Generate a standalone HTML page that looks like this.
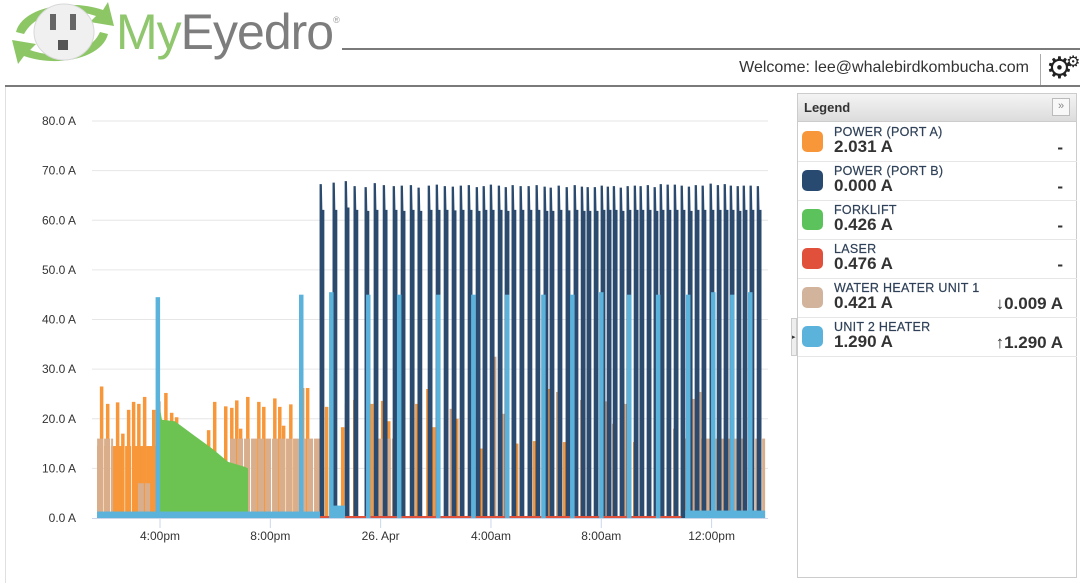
<!DOCTYPE html>
<html><head><meta charset="utf-8">
<style>
html,body{margin:0;padding:0;width:1080px;height:583px;overflow:hidden;background:#fff;font-family:"Liberation Sans",Arial,sans-serif;}
#wrap{position:relative;width:1080px;height:583px;}
.abs{position:absolute;}
.row{position:absolute;left:798px;width:279px;height:39px;border-bottom:1px solid #e6e6e6;}
.sw{position:absolute;left:4px;top:9px;width:21px;height:21px;border-radius:5px;}
.lbl{position:absolute;left:36px;top:3px;font-size:12.5px;color:#2f4158;letter-spacing:0.3px;-webkit-text-stroke:0.2px #2f4158;}
.val{position:absolute;left:36px;top:15px;font-size:17px;font-weight:bold;color:#333;}
.rv{position:absolute;right:14px;top:16px;font-size:17px;font-weight:bold;color:#333;}
</style></head>
<body>
<div id="wrap">
  <svg class="abs" style="left:8px;top:0" width="112" height="68">
    <path d="M8 32 C14 8 60 -2 95 10 L100 2 L106 26 L82 22 L88 16 C60 6 28 12 16 34 Z" fill="#8cc665"/>
    <path d="M100 34 C94 58 50 68 16 56 L10 64 L4 40 L28 44 L22 50 C50 60 82 54 92 32 Z" fill="#8cc665"/>
    <ellipse cx="56" cy="32" rx="30" ry="28" fill="#f0f0f0" stroke="#d8d8d8"/>
    <rect x="42" y="14" width="6" height="16" fill="#666"/>
    <rect x="62" y="14" width="6" height="16" fill="#666"/>
    <path d="M50 40 h10 v10 h-10 z" fill="#555"/>
  </svg>
  <div class="abs" style="left:116px;top:3px;font-size:50px;letter-spacing:-1px;"><span style="color:#8fc66e">My</span><span style="color:#7d7d7d">Eyedro</span><span style="font-size:9px;color:#999;vertical-align:top;position:relative;top:12px">®</span></div>
  <div class="abs" style="left:342px;top:48px;width:738px;height:2px;background:#7a7a7a"></div>
  <div class="abs" style="left:700px;top:59px;width:329px;text-align:right;font-size:16px;color:#333">Welcome: lee@whalebirdkombucha.com</div>
  <div class="abs" style="left:1040px;top:54px;width:1px;height:31px;background:#aaa"></div>
  <div class="abs" style="left:1046px;top:54px;font-size:30px;color:#222;line-height:30px">⚙<span style="position:absolute;left:20px;top:-6px;font-size:16px">⚙</span></div>
  <div class="abs" style="left:5px;top:85px;width:1075px;height:2px;background:#7a7a7a"></div>
  <div class="abs" style="left:5px;top:87px;width:1px;height:496px;background:#e0e0e0"></div>

  <svg id="chart" class="abs" style="left:0;top:0" width="790" height="583"></svg>

  <div class="abs" style="left:797px;top:93px;width:280px;height:485px;border:1px solid #ccc;box-sizing:border-box"></div>
  <div class="abs" style="left:798px;top:94px;width:278px;height:27px;background:linear-gradient(#f4f4f4,#dcdcdc);border-bottom:1px solid #ccc">
    <span style="position:absolute;left:6px;top:6px;font-size:13px;font-weight:bold;color:#333">Legend</span>
    <span style="position:absolute;right:6px;top:4px;width:16px;height:16px;border:1px solid #bbb;background:#f8f8f8;font-size:11px;color:#888;text-align:center;line-height:15px">»</span>
  </div>
  <div class="abs" style="left:791px;top:318px;width:6px;height:38px;background:#eee;border:1px solid #ccc;box-sizing:border-box;font-size:7px;line-height:38px;color:#333">▸</div>

  <div class="row" style="top:122px"><div class="sw" style="background:#f7973a"></div><div class="lbl">POWER (PORT A)</div><div class="val">2.031 A</div><div class="rv">-</div></div>
  <div class="row" style="top:161px"><div class="sw" style="background:#284a70"></div><div class="lbl">POWER (PORT B)</div><div class="val">0.000 A</div><div class="rv">-</div></div>
  <div class="row" style="top:200px"><div class="sw" style="background:#5cc35c"></div><div class="lbl">FORKLIFT</div><div class="val">0.426 A</div><div class="rv">-</div></div>
  <div class="row" style="top:239px"><div class="sw" style="background:#e0503a"></div><div class="lbl">LASER</div><div class="val">0.476 A</div><div class="rv">-</div></div>
  <div class="row" style="top:278px"><div class="sw" style="background:#d2b49c"></div><div class="lbl">WATER HEATER UNIT 1</div><div class="val">0.421 A</div><div class="rv">↓0.009 A</div></div>
  <div class="row" style="top:317px"><div class="sw" style="background:#5bb3dc"></div><div class="lbl">UNIT 2 HEATER</div><div class="val">1.290 A</div><div class="rv">↑1.290 A</div></div>
</div>
<script>
const yTicks=[0,10,20,30,40,50,60,70,80];
const yTickLabels=["0.0 A","10.0 A","20.0 A","30.0 A","40.0 A","50.0 A","60.0 A","70.0 A","80.0 A"];
const xTicks=[16,20,24,28,32,36];
const xTickLabels=["4:00pm","8:00pm","26. Apr","4:00am","8:00am","12:00pm"];
// Port B (dark blue) spikes
const portBTimes=[21.80,22.27,22.71,23.03,23.43,23.76,24.09,24.45,24.74,25.07,25.35,25.72,26.01,26.30,26.59,26.88,27.17,27.46,27.71,27.97,28.26,28.51,28.76,29.05,29.34,29.63,29.92,30.14,30.43,30.72,31.01,31.27,31.48,31.74,31.99,32.21,32.43,32.68,32.93,33.19,33.40,33.66,33.91,34.13,34.38,34.64,34.89,35.15,35.40,35.65,35.94,36.20,36.45,36.67,36.92,37.14,37.39,37.65];
const portBPeaks=[67.2,67.5,67.8,66.8,66.6,67.4,67.0,66.8,66.9,67.0,66.5,66.9,67.1,66.8,66.7,66.9,67.0,66.6,66.8,67.1,66.9,66.6,67.0,66.8,66.8,67.0,66.7,66.5,66.9,66.6,67.0,66.7,66.6,66.6,66.9,66.7,66.8,66.5,66.8,66.9,66.8,67.0,66.6,67.2,67.1,67.1,66.9,66.7,67.0,66.9,67.3,67.0,67.2,66.9,66.8,66.9,66.9,66.8];
const portBPlateau=[62,62,62.5,62,61.8,62,62,62,61.8,62,61.8,62,62,62,61.9,62,62,61.8,62,62,62,61.8,62,62,62,62,61.8,61.8,62,61.9,62,61.8,61.8,61.8,62,62,62,61.8,62,62,62,62,61.8,62,62,62,62,61.8,62,62,62,62,62,62,61.8,62,62,62];
// Port A (orange) spikes
const portATimes=[13.82,14.04,14.40,14.59,14.80,14.98,15.17,15.38,15.71,16.15,16.36,16.54,17.70,17.92,18.32,18.54,18.72,18.86,19.12,19.52,19.70,20.10,20.28,20.42,20.68,21.11,21.29,21.98,22.56,23.00,23.61,24.01,24.23,25.25,25.65,25.86,26.70,27.60,28.87,29.52,30.07,30.61,33.15,34.13,35.58];
const portAValues=[26.5,23,23.3,17,21.8,23.4,23,24.4,21.8,25.2,21.2,20.3,17.7,23.4,22.5,22.2,23.7,18,24.4,23.4,22.4,24.1,22.4,18.6,22.9,26.2,26.2,22.4,18.3,23.8,23,23.6,19.5,23,26,18.3,20,14,15,15.5,26,15.3,15.3,15,14];
const portABlockStart=[13.72];const portABlockEnd=[15.93];const portABlockValue=[14.5];
// Water heater (tan)
const heaterBlockStart=[13.72,15.20,18.54,23.90,35.04];
const heaterBlockEnd=[14.30,15.64,21.87,24.45,37.94];
const heaterBlockValue=[16,7,16,16,16];
const heaterTimes=[15.90,22.70,24.52,26.50,27.24,28.07,28.40,29.96,30.36,31.23,31.48,32.10,32.39,32.82,34.60,35.30,35.50];
const heaterValues=[23.5,23,20,22,22,32.5,21,25.4,25.4,23.8,18.3,23.5,19,23,18,24,25.4];
// Forklift (green) area
const forkTimes=[15.93,16.07,16.54,17.27,17.89,18.47,19.08,19.19];
const forkValues=[24.2,19.8,19.5,16.5,14,11.3,10.3,10];
// Laser (red)
const laserStart=[21.80];const laserEnd=[34.90];const laserValue=[0.4];
// Unit 2 heater (light blue)
const unit2Times=[15.84,21.04,22.13,23.47,24.59,26.01,27.28,28.51,29.82,30.87,31.92,32.93,33.98,35.07,35.98,36.67,37.32];
const unit2Values=[44.5,45,45.5,45,45,45,45,45,45,45,45.5,45,45,45,45.5,45,45.5];
const unit2BaseStart=[13.72,22.17,35.04];const unit2BaseEnd=[21.80,22.71,37.94];const unit2BaseValue=[1.3,2.5,1.5];

const NS="http://www.w3.org/2000/svg";
const svg=document.getElementById('chart');
function xOf(t){return 160+(t-16)*27.58;}
function yOf(v){return 518-v*4.9625;}
function mk(tag,attrs,parent){const e=document.createElementNS(NS,tag);for(const k in attrs)e.setAttribute(k,attrs[k]);(parent||svg).appendChild(e);return e;}
yTicks.forEach((v,i)=>{
  if(v>0){const g=mk('line',{x1:92,x2:768,y1:yOf(v),y2:yOf(v),stroke:'#e6e6e6','stroke-width':1});
  
  }
  const t=mk('text',{x:76,y:yOf(v)+4,'text-anchor':'end','font-size':12,fill:'#333','font-family':'Liberation Sans, sans-serif'});
  t.textContent=yTickLabels[i];
  
  
});
function bar(t,v,w,color,name){
  const r=mk('rect',{x:xOf(t),y:yOf(v),width:w,height:yOf(0)-yOf(v),fill:color});
  
  
}
function block(s,e,v,color,name,striped){
  const x0=xOf(s),x1=xOf(e);
  if(!striped){
    const r=mk('rect',{x:x0,y:yOf(v),width:x1-x0,height:yOf(0)-yOf(v),fill:color});
    
    
    return;
  }
  for(let x=x0;x<x1;x+=7){
    const r=mk('rect',{x:x,y:yOf(v),width:Math.min(6,x1-x),height:yOf(0)-yOf(v),fill:color});
    
    
  }
}
portABlockStart.forEach((s,i)=>block(s,portABlockEnd[i],portABlockValue[i],'#f7973a','port-a-block',true));
portATimes.forEach((t,i)=>bar(t,portAValues[i],3.5,'#f7973a','port-a-spike'));
heaterBlockStart.forEach((s,i)=>block(s,heaterBlockEnd[i],heaterBlockValue[i],'#d8ae8c','water-heater-block',true));
heaterTimes.forEach((t,i)=>bar(t,heaterValues[i],3.5,'#d2a888','water-heater-spike'));
(function(){
  let d='M'+xOf(forkTimes[0])+','+yOf(0);
  forkTimes.forEach((t,i)=>{d+=' L'+xOf(t)+','+yOf(forkValues[i]);});
  d+=' L'+xOf(forkTimes[forkTimes.length-1])+','+yOf(0)+' Z';
  const p=mk('path',{d:d,fill:'#6cc352'});
  
  
})();
portBTimes.forEach((t,i)=>{
  const x=xOf(t);
  const d='M'+x+','+yOf(0)+' L'+x+','+yOf(portBPeaks[i])+' L'+(x+1.5)+','+yOf(portBPeaks[i])+' L'+(x+2)+','+yOf(portBPlateau[i])+' L'+(x+4)+','+yOf(portBPlateau[i])+' L'+(x+4)+','+yOf(0)+' Z';
  const p=mk('path',{d:d,fill:'#2b4a6e',stroke:'#2b4a6e','stroke-width':0.8});
  
  
});
laserStart.forEach((s,i)=>block(s,laserEnd[i],laserValue[i],'#e0503a','laser-line',false));
unit2BaseStart.forEach((s,i)=>block(s,unit2BaseEnd[i],unit2BaseValue[i],'#5bb3dc','unit2-base',false));
unit2Times.forEach((t,i)=>bar(t,unit2Values[i],4.5,'#5bb3dc','unit2-spike'));
const ax=mk('line',{x1:92,x2:768,y1:518.5,y2:518.5,stroke:'#ccd6eb','stroke-width':1});


xTicks.forEach((t,i)=>{
  const tk=mk('line',{x1:xOf(t),x2:xOf(t),y1:518,y2:528,stroke:'#ccd6eb'});
  
  
  const tx=mk('text',{x:xOf(t),y:540,'text-anchor':'middle','font-size':12,fill:'#333','font-family':'Liberation Sans, sans-serif'});
  tx.textContent=xTickLabels[i];
  
  
});
</script>
</body></html>
